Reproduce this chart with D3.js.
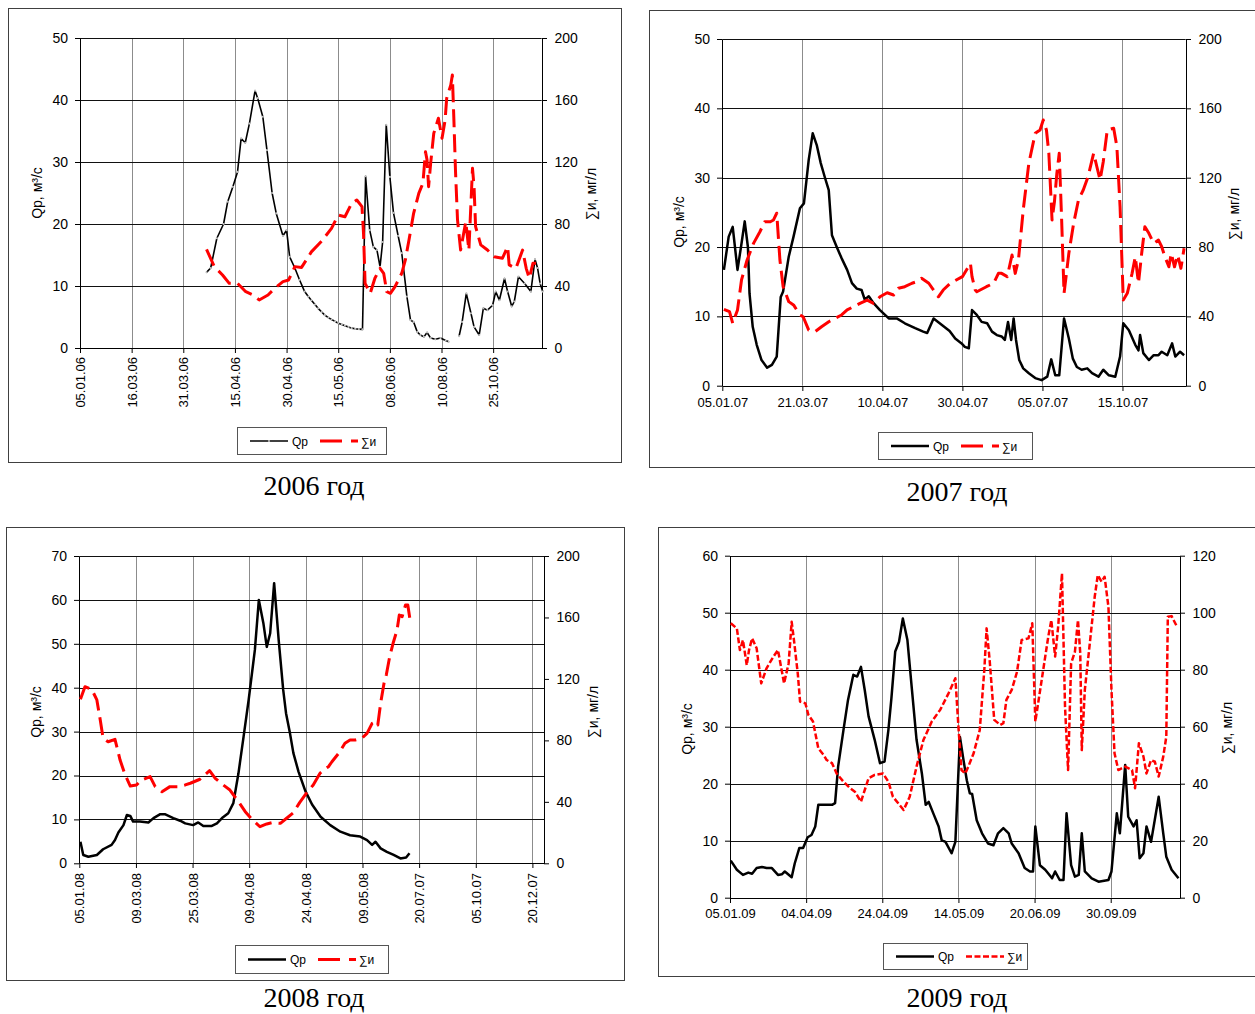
<!DOCTYPE html>
<html lang="ru">
<head>
<meta charset="utf-8">
<script src="https://d3js.org/d3.v7.min.js"></script>
<title>Qp и ∑и по годам</title>
<style>
  html, body { margin: 0; padding: 0; background: #fff; }
  svg { display: block; }
</style>
</head>
<body>
<div id="chart"></div>
<script>
// ---------- data: [position on category axis (label intervals), value] ----------
const labels2006 = ["05.01.06", "16.03.06", "31.03.06", "15.04.06", "30.04.06", "15.05.06", "08.06.06", "10.08.06", "25.10.06"];
const qp2006 = [[2.45,12.2],[2.53,12.9],[2.65,17.7],[2.78,20],[2.86,23.6],[2.96,26],[3.05,28.4],[3.12,33.8],[3.20,33.1],[3.28,36.2],[3.39,41.5],[3.44,40.3],[3.54,37.3],[3.62,31.9],[3.72,25],[3.80,21.7],[3.93,18.1],[4.00,19],[4.06,14.7],[4.16,12.9],[4.25,11],[4.35,9.1],[4.42,8.3],[4.48,7.7],[4.55,7.0],[4.61,6.4],[4.68,5.8],[4.74,5.3],[4.81,4.9],[4.87,4.6],[4.94,4.3],[5.00,4.0],[5.07,3.8],[5.13,3.6],[5.20,3.4],[5.26,3.2],[5.33,3.1],[5.40,3.05],[5.47,3.0],[5.53,27.7],[5.61,19],[5.68,16.3],[5.75,15.8],[5.81,13.1],[5.86,17.1],[5.93,36],[6.00,27.6],[6.07,21.8],[6.16,18.1],[6.23,15.3],[6.33,8.3],[6.40,4.5],[6.46,4.2],[6.53,2.6],[6.59,2.1],[6.66,1.8],[6.72,2.5],[6.79,1.6],[6.88,1.4],[6.98,1.6],[7.08,1.2],[7.14,1.0],[7.24,null],[7.34,1.9],[7.40,4.2],[7.48,8.8],[7.57,5.6],[7.63,3.4],[7.73,2.1],[7.81,6.4],[7.89,6.1],[7.99,6.9],[8.05,9.1],[8.12,7.7],[8.22,11.2],[8.28,9.1],[8.36,6.7],[8.41,7.5],[8.49,11.5],[8.61,10.4],[8.73,9.1],[8.81,14.3],[8.86,12.9],[8.91,10.4],[8.96,9.1]];
const si2006 = [[2.45,63.7],[2.60,52.5],[2.76,47.1],[2.89,41.7],[3.05,41.7],[3.21,36.3],[3.35,34.2],[3.47,31],[3.64,34.2],[3.77,38.5],[3.93,42.8],[4.04,43.9],[4.16,52.5],[4.29,52],[4.48,62],[4.68,69],[4.87,77.2],[5.00,85.8],[5.13,84.7],[5.26,93.3],[5.36,95.5],[5.46,91.2],[5.49,74],[5.52,41.7],[5.62,35.3],[5.71,45],[5.81,51.4],[5.88,48.2],[5.94,36.3],[6.01,35.3],[6.10,39.6],[6.23,48.2],[6.30,56.8],[6.37,69.7],[6.46,86.9],[6.56,99.8],[6.64,106.3],[6.69,126.6],[6.72,121.3],[6.75,104.1],[6.79,119.2],[6.85,138.5],[6.94,148.2],[7.01,135.3],[7.07,147.1],[7.10,161.1],[7.18,169.7],[7.21,176.1],[7.24,147],[7.27,115],[7.31,82.6],[7.37,63.2],[7.47,81.5],[7.53,63.2],[7.60,115.9],[7.63,104],[7.66,78.3],[7.76,66.5],[7.89,63.2],[8.02,58.9],[8.18,57.9],[8.28,65.4],[8.31,53.6],[8.44,51.4],[8.57,63.2],[8.64,51.4],[8.70,45],[8.77,54.6],[8.83,54.6]];

const labels2007 = ["05.01.07", "21.03.07", "10.04.07", "30.04.07", "05.07.07", "15.10.07"];
const qp2007 = [[0.02,16.7],[0.08,21.5],[0.13,22.9],[0.19,16.7],[0.24,20.5],[0.28,23.7],[0.32,20],[0.34,13.3],[0.38,8.5],[0.43,5.9],[0.49,3.7],[0.56,2.6],[0.62,3.0],[0.68,4.2],[0.73,12.8],[0.76,13.6],[0.83,18.6],[0.89,21.5],[0.97,25.6],[1.02,26.3],[1.08,32.6],[1.13,36.4],[1.18,34.7],[1.23,32.1],[1.28,30.1],[1.33,28.2],[1.37,21.7],[1.43,20.0],[1.49,18.4],[1.56,16.7],[1.62,14.8],[1.68,14.0],[1.74,13.8],[1.78,12.4],[1.83,12.9],[1.89,11.9],[1.97,10.9],[2.08,9.7],[2.18,9.7],[2.28,9.0],[2.41,8.3],[2.51,7.8],[2.56,7.6],[2.64,9.7],[2.74,8.8],[2.84,7.9],[2.91,6.8],[2.99,6.1],[3.03,5.6],[3.08,5.4],[3.12,10.9],[3.18,10.2],[3.24,9.2],[3.31,9.0],[3.37,7.8],[3.43,7.3],[3.49,7.1],[3.53,6.6],[3.57,9.2],[3.61,6.6],[3.64,9.7],[3.67,6.6],[3.71,3.7],[3.76,2.5],[3.83,1.8],[3.91,1.1],[3.99,0.8],[4.06,1.3],[4.11,3.8],[4.16,1.5],[4.21,1.5],[4.27,9.7],[4.33,6.8],[4.38,3.9],[4.43,2.7],[4.49,2.3],[4.56,2.5],[4.62,1.8],[4.70,1.3],[4.76,2.3],[4.83,1.5],[4.91,1.3],[4.97,4.2],[5.01,9.0],[5.08,8.0],[5.16,5.9],[5.20,5.1],[5.22,7.3],[5.26,4.7],[5.33,3.7],[5.39,4.4],[5.45,4.4],[5.49,4.9],[5.56,4.4],[5.62,6.1],[5.66,4.2],[5.72,4.9],[5.77,4.4]];
const si2007 = [[0.02,44.1],[0.09,42.7],[0.13,36.0],[0.19,43.7],[0.24,61.0],[0.31,72.5],[0.39,82.1],[0.47,88.8],[0.53,94.6],[0.60,94.6],[0.64,95.6],[0.68,99.5],[0.72,72.5],[0.76,57.1],[0.83,48.5],[0.89,46.6],[0.97,40.8],[1.01,39.8],[1.08,32.1],[1.16,31.2],[1.24,34.0],[1.33,36.9],[1.41,38.9],[1.49,40.8],[1.56,43.7],[1.64,45.6],[1.72,47.5],[1.81,49.4],[1.89,47.5],[1.97,51.3],[2.06,53.6],[2.14,52.3],[2.20,56.2],[2.28,57.1],[2.37,59.1],[2.43,60.0],[2.49,62.0],[2.58,59.1],[2.64,55.2],[2.70,51.3],[2.76,55.2],[2.85,59.1],[3.00,62.9],[3.10,70.6],[3.12,62.9],[3.16,55.2],[3.18,54.2],[3.30,57.1],[3.39,59.1],[3.45,64.8],[3.49,64.8],[3.56,62.9],[3.62,75.4],[3.66,64.8],[3.70,72.5],[3.76,101.4],[3.83,128.3],[3.91,145.6],[3.97,147.5],[4.01,153.3],[4.05,147.5],[4.08,134.1],[4.12,95.6],[4.15,106.1],[4.18,122.5],[4.21,134.1],[4.24,95.6],[4.27,53.3],[4.30,64.8],[4.33,76.4],[4.39,93.7],[4.45,107.1],[4.51,112.9],[4.57,120.6],[4.64,134.1],[4.68,126.3],[4.72,118.7],[4.76,129.2],[4.81,147.5],[4.89,148.5],[4.93,137.9],[4.97,103.3],[5.01,49.4],[5.06,53.3],[5.12,64.8],[5.16,74.4],[5.20,59.1],[5.24,76.4],[5.28,91.7],[5.33,87.9],[5.39,82.1],[5.45,84.0],[5.49,80.2],[5.53,74.4],[5.58,68.6],[5.61,76.4],[5.65,68.6],[5.69,75.4],[5.73,67.7],[5.77,79.3]];

const labels2008 = ["05.01.08", "09.03.08", "25.03.08", "09.04.08", "24.04.08", "09.05.08", "20.07.07", "05.10.07", "20.12.07"];
const qp2008 = [[0.02,4.9],[0.07,1.9],[0.16,1.5],[0.31,1.9],[0.42,3.2],[0.57,4.2],[0.63,5.3],[0.69,7.0],[0.78,8.7],[0.84,11.0],[0.90,10.8],[0.95,9.5],[1.07,9.5],[1.22,9.3],[1.31,10.3],[1.43,11.2],[1.51,11.2],[1.66,10.3],[1.78,9.7],[1.87,9.1],[2.01,8.7],[2.10,9.3],[2.19,8.5],[2.34,8.5],[2.43,9.1],[2.52,10.3],[2.63,11.4],[2.72,13.7],[2.81,20.5],[2.90,28.8],[2.99,37.2],[3.10,48.6],[3.17,60.0],[3.25,54.7],[3.31,49.3],[3.37,52.4],[3.44,63.8],[3.52,50.9],[3.60,39.5],[3.65,34.2],[3.72,29.6],[3.78,25.1],[3.87,20.9],[3.99,16.5],[4.11,13.4],[4.26,10.6],[4.43,8.7],[4.61,7.2],[4.78,6.4],[4.96,6.1],[5.08,5.3],[5.17,4.2],[5.23,4.9],[5.32,3.4],[5.43,2.6],[5.55,1.9],[5.67,1.1],[5.77,1.3],[5.83,2.3]];
const si2008 = [[0.02,106.7],[0.10,114.9],[0.22,113.2],[0.31,106.3],[0.37,93.3],[0.42,81.4],[0.51,79.1],[0.63,80.7],[0.72,67.2],[0.81,57.5],[0.90,50.3],[1.01,51.0],[1.10,54.2],[1.25,56.4],[1.34,49.9],[1.46,46.6],[1.60,49.9],[1.75,49.9],[1.87,51.0],[1.96,52.1],[2.13,54.7],[2.30,60.3],[2.40,55.3],[2.54,51.0],[2.66,47.7],[2.81,40.1],[2.93,33.6],[3.05,28.6],[3.19,23.8],[3.31,25.6],[3.40,26.4],[3.55,26.0],[3.66,29.3],[3.78,32.9],[3.89,39.5],[4.01,45.6],[4.13,51.0],[4.25,58.6],[4.31,60.7],[4.40,62.9],[4.46,66.1],[4.58,71.6],[4.69,78.1],[4.78,80.2],[4.87,80.2],[4.99,81.4],[5.08,84.6],[5.17,91.1],[5.23,92.2],[5.27,90.0],[5.32,104.1],[5.38,117.2],[5.42,122.5],[5.48,134.5],[5.54,143.2],[5.61,151.8],[5.65,161.6],[5.70,160.5],[5.76,168.1],[5.80,168.1],[5.84,158.3]];

const labels2009 = ["05.01.09", "04.04.09", "24.04.09", "14.05.09", "20.06.09", "30.09.09"];
const qp2009 = [[0.01,6.5],[0.09,4.9],[0.17,4.0],[0.24,4.4],[0.29,4.2],[0.35,5.2],[0.42,5.4],[0.48,5.2],[0.55,5.2],[0.63,4.0],[0.68,4.1],[0.72,4.6],[0.81,3.6],[0.85,6.0],[0.91,8.7],[0.96,8.7],[1.02,10.6],[1.07,11.0],[1.12,12.5],[1.16,16.3],[1.25,16.3],[1.34,16.3],[1.38,16.6],[1.42,23.0],[1.49,29.4],[1.55,34.7],[1.62,39.1],[1.67,38.8],[1.72,40.5],[1.77,36.4],[1.82,31.8],[1.90,27.7],[1.97,23.6],[2.03,23.9],[2.08,29.4],[2.12,35.0],[2.17,43.2],[2.22,44.9],[2.27,49.0],[2.33,45.2],[2.39,36.4],[2.45,27.7],[2.52,21.8],[2.57,16.3],[2.61,16.8],[2.67,14.8],[2.74,12.5],[2.78,10.1],[2.83,9.8],[2.91,7.8],[2.96,9.8],[3.02,28.2],[3.06,24.7],[3.11,20.6],[3.15,18.3],[3.18,18.2],[3.24,13.6],[3.31,11.3],[3.39,9.5],[3.46,9.2],[3.52,11.3],[3.59,12.2],[3.66,11.3],[3.70,9.5],[3.79,7.8],[3.87,5.2],[3.94,4.6],[3.98,4.6],[4.01,12.5],[4.07,5.7],[4.14,4.9],[4.23,3.4],[4.27,4.6],[4.33,3.1],[4.38,3.1],[4.42,14.8],[4.48,5.7],[4.53,3.7],[4.58,4.0],[4.62,11.3],[4.66,4.6],[4.75,3.4],[4.84,2.8],[4.97,3.1],[5.01,4.6],[5.08,14.8],[5.12,11.3],[5.19,23.3],[5.23,14.2],[5.30,12.5],[5.34,13.6],[5.38,6.9],[5.43,7.8],[5.47,12.5],[5.53,9.8],[5.63,17.7],[5.69,11.3],[5.73,7.2],[5.80,4.9],[5.89,3.4]];
const si2009 = [[0.01,96.3],[0.09,94.5],[0.13,86.9],[0.17,90.4],[0.22,81.6],[0.25,86.9],[0.29,91.0],[0.35,87.5],[0.41,75.2],[0.48,80.5],[0.57,84.6],[0.63,86.9],[0.71,75.2],[0.77,82.2],[0.81,96.8],[0.84,90.4],[0.89,78.7],[0.92,68.8],[0.99,68.2],[1.03,64.1],[1.09,61.8],[1.16,52.4],[1.23,50.1],[1.27,48.3],[1.34,47.2],[1.40,43.6],[1.49,40.7],[1.58,38.4],[1.64,37.2],[1.72,33.7],[1.82,41.9],[1.90,43.1],[2.01,43.6],[2.08,40.7],[2.14,35.4],[2.28,30.8],[2.36,35.4],[2.45,46.0],[2.54,55.3],[2.65,61.8],[2.76,65.9],[2.87,71.7],[2.96,77.0],[3.00,60.0],[3.04,44.8],[3.09,43.6],[3.13,46.0],[3.20,50.7],[3.28,58.8],[3.34,79.9],[3.37,94.5],[3.41,83.4],[3.47,62.4],[3.55,60.6],[3.59,61.2],[3.63,69.4],[3.70,72.9],[3.77,79.3],[3.83,90.4],[3.92,91.0],[3.97,96.3],[4.01,61.8],[4.06,70.5],[4.11,79.3],[4.18,91.6],[4.22,97.4],[4.27,84.6],[4.31,95.1],[4.36,113.8],[4.40,67.0],[4.44,44.8],[4.48,82.2],[4.53,86.3],[4.57,97.4],[4.60,85.8],[4.62,51.8],[4.66,72.9],[4.73,90.4],[4.79,105.6],[4.83,113.2],[4.88,110.9],[4.92,112.6],[4.97,102.1],[5.01,72.9],[5.05,50.7],[5.10,44.8],[5.19,46.0],[5.28,44.8],[5.32,38.4],[5.37,54.2],[5.43,49.5],[5.47,43.6],[5.53,48.3],[5.58,47.7],[5.63,42.5],[5.69,49.5],[5.73,56.5],[5.75,98.6],[5.80,98.8],[5.87,95.1]];

// ---------- layout of the four panels ----------
const FONT = "Arial, 'Liberation Sans', sans-serif";

const panels = [
  { year: "2006 год", labels: labels2006, qp: qp2006, si: si2006,
    frame: [8, 8, 621, 462], left: 80, right: 541.7, top: 38, bottom: 348, xMax: 8.94,
    leftMax: 50, leftStep: 10, rightMax: 200, rightStep: 40, rotate: true, labelGap: 9,
    qpWidth: 1.6, markers: true, siWidth: 3, siDash: "18,7",
    qpTitle: [37, 193], siTitle: [591, 194], legend: [237, 427, 149, 27], yearPos: [314, 495] },
  { year: "2007 год", labels: labels2007, qp: qp2007, si: si2007,
    frame: [649, 10, 1260, 467], left: 722.3, right: 1185.7, top: 39, bottom: 385.7, xMax: 5.79,
    leftMax: 50, leftStep: 10, rightMax: 200, rightStep: 40, rotate: false, labelGap: 6.5,
    qpWidth: 2.5, markers: false, siWidth: 3, siDash: "18,7",
    qpTitle: [679, 222], siTitle: [1234, 214], legend: [878, 432, 154, 27], yearPos: [957, 501] },
  { year: "2008 год", labels: labels2008, qp: qp2008, si: si2008,
    frame: [6, 527, 624, 980], left: 79.3, right: 544.3, top: 556, bottom: 863.3, xMax: 8.21,
    leftMax: 70, leftStep: 10, rightMax: 200, rightStep: 40, rotate: true, labelGap: 10,
    qpWidth: 2.5, markers: false, siWidth: 3, siDash: "18,7",
    qpTitle: [36, 712], siTitle: [593, 712], legend: [235, 945, 153, 28], yearPos: [314, 1007] },
  { year: "2009 год", labels: labels2009, qp: qp2009, si: si2009,
    frame: [658, 527, 1260, 976], left: 730, right: 1180, top: 555.7, bottom: 897.7, xMax: 5.91,
    leftMax: 60, leftStep: 10, rightMax: 120, rightStep: 20, rotate: false, labelGap: 6,
    qpWidth: 2.5, markers: false, siWidth: 2.5, siDash: "6,2.5",
    qpTitle: [687, 729], siTitle: [1227, 728], legend: [883, 943, 144, 26], yearPos: [957, 1007] }
];

const svg = d3.select("#chart").append("svg")
    .attr("width", 1255)
    .attr("height", 1014)
    .style("background", "#fff");

panels.forEach(drawPanel);

function drawPanel(p) {
    const g = svg.append("g");

    // outer frame of the panel
    g.append("rect")
        .attr("x", p.frame[0] + 0.5).attr("y", p.frame[1] + 0.5)
        .attr("width", p.frame[2] - p.frame[0]).attr("height", p.frame[3] - p.frame[1])
        .attr("fill", "none").attr("stroke", "#404040").attr("stroke-width", 1);

    const x = d3.scaleLinear().domain([0, p.xMax]).range([p.left, p.right]);
    const yL = d3.scaleLinear().domain([0, p.leftMax]).range([p.bottom, p.top]);
    const yR = d3.scaleLinear().domain([0, p.rightMax]).range([p.bottom, p.top]);

    // vertical grid (grey)
    g.append("g").selectAll("line")
        .data(d3.range(1, p.labels.length))
        .join("line")
            .attr("x1", d => Math.round(x(d)) + 0.5).attr("x2", d => Math.round(x(d)) + 0.5)
            .attr("y1", p.top).attr("y2", p.bottom)
            .attr("stroke", "#8c8c8c").attr("stroke-width", 1);

    // horizontal grid (black)
    g.append("g").selectAll("line")
        .data(d3.range(p.leftStep, p.leftMax + 0.01, p.leftStep))
        .join("line")
            .attr("x1", p.left).attr("x2", p.right)
            .attr("y1", d => Math.round(yL(d)) + 0.5).attr("y2", d => Math.round(yL(d)) + 0.5)
            .attr("stroke", "#111").attr("stroke-width", 1);

    // left axis
    const axL = g.append("g")
        .attr("transform", `translate(${Math.round(p.left)},0)`)
        .call(d3.axisLeft(yL)
            .tickValues(d3.range(0, p.leftMax + 0.01, p.leftStep))
            .tickSize(5).tickSizeOuter(0).tickPadding(7));
    // right axis
    const axR = g.append("g")
        .attr("transform", `translate(${Math.round(p.right)},0)`)
        .call(d3.axisRight(yR)
            .tickValues(d3.range(0, p.rightMax + 0.01, p.rightStep))
            .tickSize(5).tickSizeOuter(0).tickPadding(7.5));
    // bottom axis
    const axB = g.append("g")
        .attr("transform", `translate(0,${Math.round(p.bottom)})`)
        .call(d3.axisBottom(x)
            .tickValues(d3.range(0, p.labels.length))
            .tickFormat(i => p.labels[i])
            .tickSize(5).tickSizeOuter(0).tickPadding(p.labelGap));

    [axL, axR].forEach(a => a.attr("font-size", 14).attr("font-family", FONT));
    axB.attr("font-size", 13).attr("font-family", FONT);
    [axL, axR, axB].forEach(a => a.selectAll("path, line").attr("stroke", "#000"));

    if (p.rotate) {
        axB.selectAll("text")
            .attr("transform", "rotate(-90)")
            .attr("text-anchor", "end")
            .attr("x", -p.labelGap)
            .attr("y", 0)
            .attr("dy", "0.35em");
    }

    // axis titles
    g.append("text")
        .attr("transform", `translate(${p.qpTitle[0]},${p.qpTitle[1]}) rotate(-90)`)
        .attr("text-anchor", "middle").attr("dominant-baseline", "central")
        .attr("font-family", FONT).attr("font-size", 14)
        .text("Qp, м³/с");
    g.append("text")
        .attr("transform", `translate(${p.siTitle[0]},${p.siTitle[1]}) rotate(-90)`)
        .attr("text-anchor", "middle").attr("dominant-baseline", "central")
        .attr("font-family", FONT).attr("font-size", 14)
        .text("∑и, мг/л");

    // lines
    const lineL = d3.line().defined(d => d[1] != null).x(d => x(d[0])).y(d => yL(d[1]));
    const lineR = d3.line().defined(d => d[1] != null).x(d => x(d[0])).y(d => yR(d[1]));

    g.append("path")
        .datum(p.qp)
        .attr("d", lineL)
        .attr("fill", "none").attr("stroke", "#000")
        .attr("stroke-width", p.qpWidth).attr("stroke-linejoin", "round");

    if (p.markers) {
        g.append("g").selectAll("circle")
            .data(p.qp.filter(d => d[1] != null))
            .join("circle")
                .attr("cx", d => x(d[0])).attr("cy", d => yL(d[1]))
                .attr("r", 1.1).attr("fill", "#c0c0c0");
    }

    g.append("path")
        .datum(p.si)
        .attr("d", lineR)
        .attr("fill", "none").attr("stroke", "#ff0000")
        .attr("stroke-width", p.siWidth).attr("stroke-dasharray", p.siDash)
        .attr("stroke-linejoin", "round");

    // legend
    const [lx, ly, lw, lh] = p.legend;
    const lg = g.append("g");
    lg.append("rect")
        .attr("x", lx + 0.5).attr("y", ly + 0.5).attr("width", lw).attr("height", lh)
        .attr("fill", "#fff").attr("stroke", "#555");
    const cy = ly + lh / 2 + 0.5;
    lg.append("line")
        .attr("x1", lx + 13).attr("x2", lx + 51).attr("y1", cy).attr("y2", cy)
        .attr("stroke", "#000").attr("stroke-width", p.qpWidth);
    if (p.markers) {
        lg.append("circle").attr("cx", lx + 32).attr("cy", cy).attr("r", 1.1).attr("fill", "#c0c0c0");
    }
    lg.append("text")
        .attr("x", lx + 55).attr("y", cy + 4.5)
        .attr("font-family", FONT).attr("font-size", 12)
        .text("Qp");
    lg.append("line")
        .attr("x1", lx + 83).attr("x2", lx + 121).attr("y1", cy).attr("y2", cy)
        .attr("stroke", "#ff0000").attr("stroke-width", p.siWidth)
        .attr("stroke-dasharray", p.siWidth === 3 ? "22,9" : p.siDash);
    lg.append("text")
        .attr("x", lx + 124).attr("y", cy + 4.5)
        .attr("font-family", FONT).attr("font-size", 12)
        .text("∑и");

    // year caption under the panel
    g.append("text")
        .attr("x", p.yearPos[0]).attr("y", p.yearPos[1])
        .attr("text-anchor", "middle")
        .attr("font-family", "'Liberation Serif', 'Times New Roman', serif")
        .attr("font-size", 28)
        .text(p.year);
}
</script>
</body>
</html>
